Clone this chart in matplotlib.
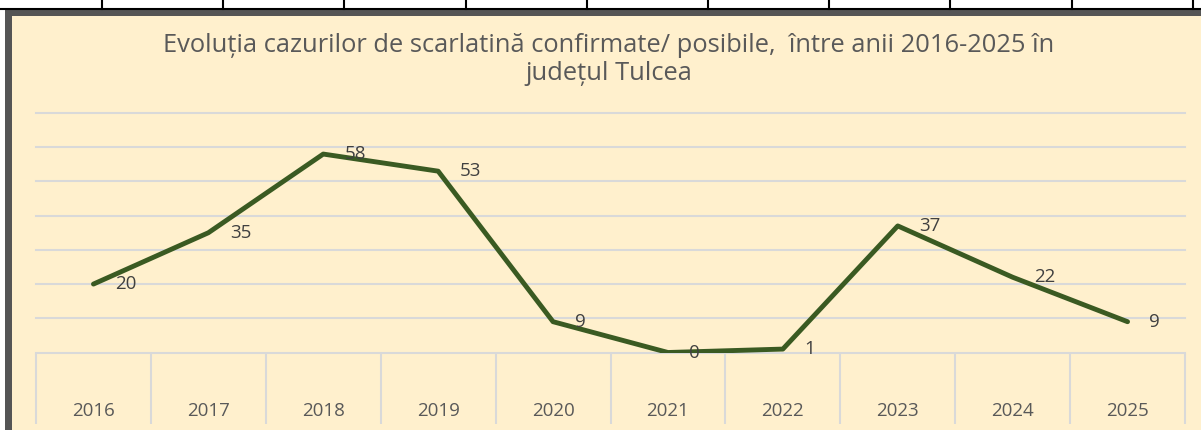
import matplotlib.pyplot as plt
from matplotlib.patches import Rectangle
from matplotlib.lines import Line2D

plt.rcParams['font.family'] = ['Open Sans', 'DejaVu Sans']

years = ["2016", "2017", "2018", "2019", "2020", "2021", "2022", "2023", "2024", "2025"]
cases = [20, 35, 58, 53, 9, 0, 1, 37, 22, 9]
title = "Evoluția cazurilor de scarlatină confirmate/ posibile,  între anii 2016-2025 în\njudețul Tulcea"

W, H = 1201, 430
fig = plt.figure(figsize=(W / 100, H / 100), dpi=100)
fig.patch.set_facecolor("white")

# piece of the table above the chart
fig.add_artist(Line2D([0, 1], [1 - 9 / H, 1 - 9 / H], color="black", lw=1.5))
for k in range(10):
    x = (102 + 121.2 * k) / W
    fig.add_artist(Line2D([x, x], [1 - 9 / H, 1], color="black", lw=1.5))

# chart frame
fig.add_artist(Rectangle((5 / W, 0), 1, 1 - 10 / H, transform=fig.transFigure,
                         facecolor="#555555", edgecolor="none", zorder=-2))
fig.add_artist(Rectangle((12 / W, 0), 1, 1 - 16 / H, transform=fig.transFigure,
                         facecolor="#FFF0CD", edgecolor="none", zorder=-1))

fig.text(609 / W, 1 - 59.5 / H, title, ha="center", va="center", fontsize=18.4,
         color="#595959", linespacing=1.13)

ax = fig.add_axes([36 / W, 1 - 352.5 / H, (1185 - 36) / W, (352.5 - 113) / H])
ax.set_facecolor("none")
x = list(range(len(years)))
ax.plot(x, cases, color="#3A5A22", lw=3.5, solid_capstyle="round", zorder=3)
for xi, v in zip(x, cases):
    ax.annotate(str(v), (xi, v), xytext=(15.5, 0), textcoords="offset points",
                ha="left", va="center", fontsize=13.5, color="#404040", zorder=4)

ax.set_xlim(-0.5, len(years) - 0.5)
ax.set_ylim(0, 70)
ax.set_yticks([])
# horizontal gridlines
for g in range(10, 71, 10):
    ax.axhline(g, color="#D9D9D9", lw=1.5, clip_on=False, zorder=1)
ax.set_xticks(x)
ax.set_xticklabels(years)
ax.tick_params(axis="x", length=0, pad=36, labelsize=13.5, labelcolor="#595959")
# category dividers below the axis
ax.set_xticks([i - 0.5 for i in range(len(years) + 1)], minor=True)
ax.tick_params(axis="x", which="minor", length=51, width=1.5, color="#D9D9D9")
for s in ["left", "right", "top"]:
    ax.spines[s].set_visible(False)
ax.spines["bottom"].set_color("#D9D9D9")
ax.spines["bottom"].set_linewidth(1.5)

fig.savefig("out.png", dpi=100)
